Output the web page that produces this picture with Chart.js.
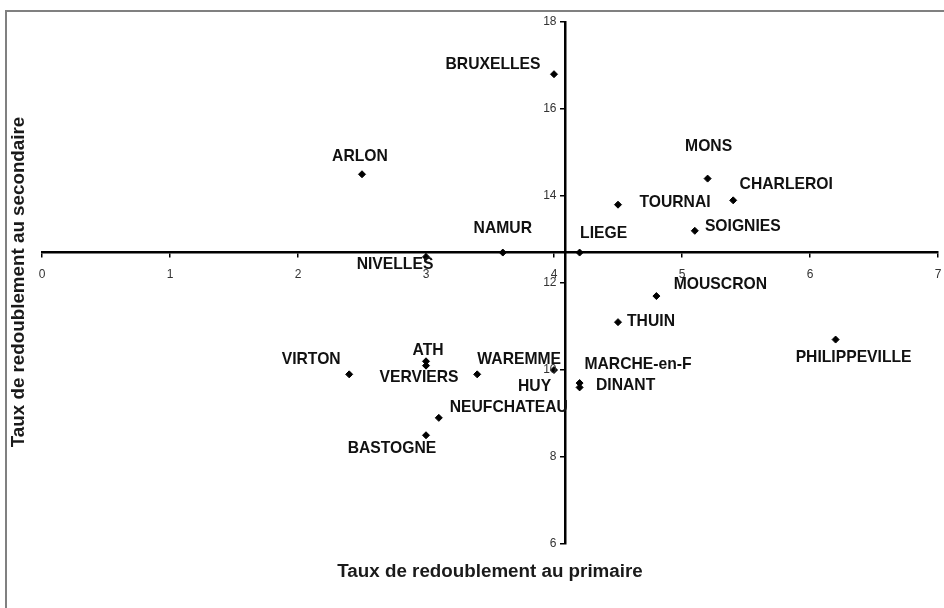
<!DOCTYPE html>
<html>
<head>
<meta charset="utf-8">
<script src="https://cdn.jsdelivr.net/npm/chart.js@4"></script>
<style>
  body { margin: 0; background: #fff; }
  canvas { display: block; }
</style>
</head>
<body>
<canvas id="grafico" width="944" height="608"></canvas>
<script>
// arrondissements
const noms = ['BRUXELLES', 'ARLON', 'NAMUR', 'LIEGE', 'NIVELLES', 'TOURNAI', 'MONS', 'CHARLEROI',
    'SOIGNIES', 'MOUSCRON', 'THUIN', 'PHILIPPEVILLE', 'MARCHE-en-F', 'DINANT', 'HUY', 'VIRTON',
    'ATH', 'VERVIERS', 'WAREMME', 'NEUFCHATEAU', 'BASTOGNE'];
// taux de redoublement (%)
const primaire = [4.0, 2.5, 3.6, 4.2, 3.0, 4.5, 5.2, 5.4, 5.1, 4.8, 4.5, 6.2, 4.0, 4.2, 4.2, 2.4, 3.0, 3.0, 3.4, 3.1, 3.0];
const secondaire = [16.8, 14.5, 12.7, 12.7, 12.6, 13.8, 14.4, 13.9, 13.2, 11.7, 11.1, 10.7, 10.0, 9.7, 9.6, 9.9, 10.2, 10.1, 9.9, 8.9, 8.5];
// point de croisement des axes
const croisementX = 4.09;
const croisementY = 12.7;
const ticksX = [0, 1, 2, 3, 4, 5, 6, 7];
const ticksY = [6, 8, 10, 12, 14, 16, 18];

// decalage des etiquettes (px) par rapport au point
const decalX = [-61, -2, 0, 24, -31, 57, 1, 53, 48, 64, 33, 18, 84, 46, -45, -38, 2, -7, 42, 70, -34];
const decalY = [-10, -18, -24, -19, 8, -2, -32, -16, -4, -11, 0, 18, -5, 3, -1, -15, -11, 12, -15, -10, 13];

const police = 'Liberation Sans, Arial, sans-serif';

const points = primaire.map((x, i) => ({ x: x, y: secondaire[i] }));

const habillage = {
    id: 'habillage',
    afterDraw(chart) {
        const c = chart.ctx;
        const sx = chart.scales.x;
        const sy = chart.scales.y;
        c.save();

        // cadre
        c.strokeStyle = '#808080';
        c.lineWidth = 2;
        c.beginPath();
        c.moveTo(6, 608);
        c.lineTo(6, 11);
        c.lineTo(944, 11);
        c.stroke();

        // graduations de l'axe vertical
        const ax = sx.getPixelForValue(croisementX);
        c.fillStyle = '#333';
        c.font = '12px ' + police;
        c.textAlign = 'right';
        c.textBaseline = 'middle';
        sy.ticks.forEach(t => {
            c.fillText(String(t.value), ax - 9, sy.getPixelForValue(t.value));
        });

        // etiquettes
        c.fillStyle = '#111';
        c.font = 'bold 15.7px ' + police;
        c.textAlign = 'center';
        const meta = chart.getDatasetMeta(0);
        meta.data.forEach((el, i) => {
            c.fillText(noms[i], el.x + decalX[i], el.y + decalY[i]);
        });

        // titres des axes
        c.font = 'bold 18.8px ' + police;
        c.fillStyle = '#1a1a1a';
        c.fillText('Taux de redoublement au primaire', 490, 572);
        c.translate(19, 282);
        c.rotate(-Math.PI / 2);
        c.fillText('Taux de redoublement au secondaire', 0, 0);
        c.restore();
    }
};

const ctx = document.getElementById('grafico');

new Chart(ctx, {
    type: 'scatter',
    data: {
        datasets: [{
            label: 'Arrondissements',
            data: points,
            pointStyle: 'rectRot',
            pointRadius: 3.5,
            pointBackgroundColor: '#000',
            pointBorderColor: '#000',
            pointBorderWidth: 1
        }]
    },
    options: {
        responsive: false,
        animation: false,
        layout: { padding: { left: 42, right: 6, top: 22, bottom: 64 } },
        plugins: {
            legend: { display: false },
            tooltip: { enabled: false }
        },
        scales: {
            x: {
                type: 'linear',
                position: { y: croisementY },
                min: 0,
                max: 7,
                afterBuildTicks: (s) => { s.ticks = ticksX.map(v => ({ value: v })); },
                grid: { drawOnChartArea: false, drawTicks: true, tickLength: 4, color: '#000', lineWidth: 1.5 },
                border: { display: true, color: '#000', width: 2.5 },
                ticks: {
                    color: '#333',
                    padding: 0,
                    maxRotation: 0,
                    font: { family: police, size: 12, lineHeight: 3 }
                }
            },
            y: {
                type: 'linear',
                position: { x: croisementX },
                min: 6,
                max: 18,
                afterBuildTicks: (s) => { s.ticks = ticksY.map(v => ({ value: v })); },
                grid: { drawOnChartArea: false, drawTicks: true, tickLength: 4, color: '#000', lineWidth: 1.5 },
                border: { display: true, color: '#000', width: 2.5 },
                ticks: { display: false }
            }
        }
    },
    plugins: [habillage]
});
</script>
</body>
</html>
